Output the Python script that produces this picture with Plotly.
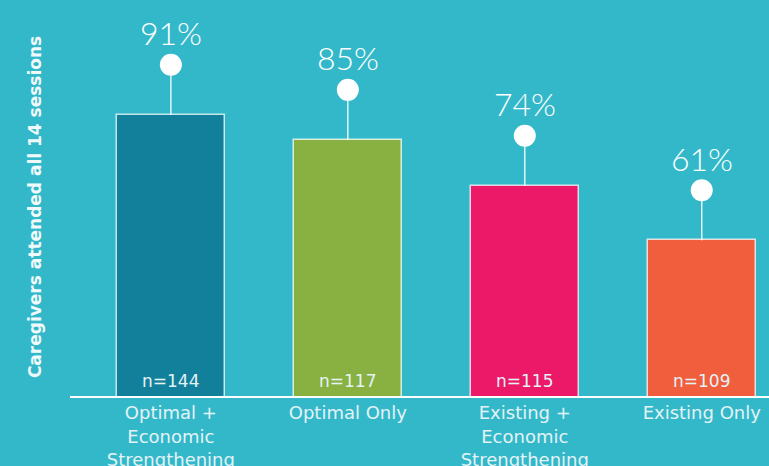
import plotly.graph_objects as go

categories = ["Optimal +<br>Economic<br>Strengthening", "Optimal Only",
              "Existing +<br>Economic<br>Strengthening", "Existing Only"]
percent = [91, 85, 74, 61]
n_labels = ["n=144", "n=117", "n=115", "n=109"]
bar_colors = ["#12809a", "#89b142", "#ec1868", "#f15e3e"]

BG = "#33b8ca"
Y_MIN, Y_MAX = 23.75, 118.5
STEM = 12.0
FONT = "DejaVu Sans"
PFONT = "Lato"
LABEL_COLOR = "#e3f3f6"

x = list(range(len(categories)))

fig = go.Figure()
fig.add_trace(go.Bar(
    x=x, y=percent, width=0.61,
    marker=dict(color=bar_colors, line=dict(color="rgba(255,255,255,0.75)", width=1.5)),
    error_y=dict(type="data", symmetric=False, array=[STEM] * len(percent),
                 arrayminus=[0] * len(percent), width=0, thickness=1.5,
                 color="rgba(255,255,255,0.85)"),
    hoverinfo="skip", showlegend=False,
))
fig.add_trace(go.Scatter(
    x=x, y=[p + STEM for p in percent], mode="markers",
    marker=dict(size=22, color="white"), showlegend=False, hoverinfo="skip",
))

for xi, p, n in zip(x, percent, n_labels):
    fig.add_annotation(x=xi, y=p + STEM, text=f"{p}%", showarrow=False,
                       yshift=32, yanchor="middle",
                       font=dict(family=PFONT, size=32, color="white", weight=300))
    fig.add_annotation(x=xi, y=Y_MIN, text=n, showarrow=False,
                       yanchor="bottom", yshift=3,
                       font=dict(family=FONT, size=17, color=LABEL_COLOR))

fig.add_annotation(xref="paper", yref="paper", x=-35 / 699, y=0.477,
                   text="Caregivers attended all 14 sessions", textangle=-90,
                   showarrow=False, xanchor="center", yanchor="middle",
                   font=dict(family=FONT, size=17, color="#f0fafb", weight=600))

fig.update_layout(
    width=769, height=466,
    margin=dict(l=70, r=0, t=0, b=70),
    paper_bgcolor=BG, plot_bgcolor=BG,
    bargap=0,
    xaxis=dict(range=[-0.57, 3.38], tickmode="array", tickvals=x, ticktext=categories,
               showgrid=False, zeroline=False, showline=True, linecolor="white",
               linewidth=1.5, ticks="", automargin=False,
               tickfont=dict(family=FONT, size=18, color=LABEL_COLOR)),
    yaxis=dict(range=[Y_MIN, Y_MAX], showgrid=False, zeroline=False,
               showticklabels=False, showline=False, automargin=False),
)

fig.write_html("out.html", config={"displayModeBar": False},
               post_script="document.body.style.margin='0';document.body.style.overflow='hidden';document.body.style.background='" + BG + "';")
